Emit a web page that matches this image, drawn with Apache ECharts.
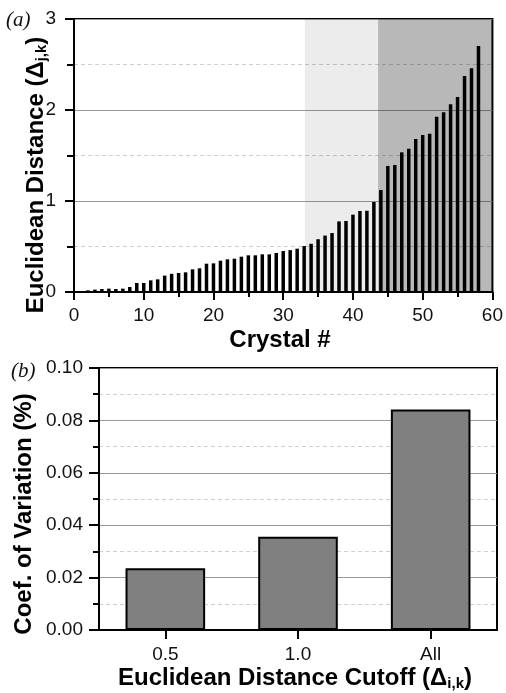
<!DOCTYPE html>
<html>
<head>
<meta charset="utf-8">
<script src="https://cdn.jsdelivr.net/npm/echarts@6/dist/echarts.min.js"></script>
<style>
  html, body { margin: 0; padding: 0; background: #fff; }
  #chart { width: 506px; height: 693px; }
</style>
</head>
<body>
<div id="chart"></div>
<script>
// panel (a): Euclidean distance per crystal, sorted
var crystalIds = [];
for (var i = 1; i <= 58; i++) crystalIds.push(i);
var distances = [
  0.005, 0.018, 0.026, 0.033, 0.037, 0.033, 0.037, 0.055, 0.099, 0.099,
  0.128, 0.139, 0.180, 0.200, 0.209, 0.216, 0.249, 0.260, 0.311, 0.315,
  0.344, 0.359, 0.366, 0.388, 0.403, 0.403, 0.414, 0.414, 0.429, 0.450,
  0.460, 0.476, 0.505, 0.530, 0.580, 0.620, 0.648, 0.776, 0.780, 0.850,
  0.890, 0.893, 0.989, 1.121, 1.385, 1.396, 1.535, 1.575, 1.681, 1.725,
  1.740, 1.927, 1.974, 2.062, 2.143, 2.374, 2.458, 2.703
];
// shaded bands (crystal # ranges)
var lightBand = [33.1, 43.6];
var darkBand = [43.6, 60];

// panel (b): coefficient of variation per cutoff
var cutoffs = ['0.5', '1.0', 'All'];
var coefVariation = [0.0236, 0.0356, 0.0842];

var FONT = '"Liberation Sans", Arial, sans-serif';
var SERIF = '"Liberation Serif", "Times New Roman", serif';
var TICK = '#000';

var chart = echarts.init(document.getElementById('chart'));

// fresh objects for every axis
function labelStyle(margin) {
  return { fontFamily: FONT, fontSize: 19, color: '#111', margin: margin };
}
function tick(len) {
  return { show: true, length: len, lineStyle: { color: TICK, width: 2 } };
}
function minorTick(len) {
  return { show: true, splitNumber: 2, length: len, lineStyle: { color: TICK, width: 2 } };
}
function axisLine() {
  return { show: true, onZero: false, lineStyle: { color: '#000', width: 2 } };
}
function majorGrid() {
  return { show: true, lineStyle: { color: '#9a9a9a', width: 1 } };
}
function minorGrid() {
  return { show: true, lineStyle: { color: '#cfcfcf', width: 1, type: [4, 3] } };
}

var titleRich = {
  sub: { fontFamily: FONT, fontSize: 15, fontWeight: 'bold', fill: '#000', padding: [12, 0, 0, 0] }
};

var option = {
  animation: false,
  grid: [
    { left: 74, top: 19, width: 422, height: 273, show: true, borderColor: '#000', borderWidth: 2, backgroundColor: 'transparent' },
    { left: 99, top: 368, width: 398, height: 262, show: true, borderColor: '#000', borderWidth: 2, backgroundColor: 'transparent' }
  ],
  xAxis: [
    {
      gridIndex: 0, type: 'value', min: 0, max: 60, interval: 10,
      axisLine: axisLine(),
      axisTick: tick(8),
      minorTick: minorTick(5),
      axisLabel: labelStyle(14),
      splitLine: { show: false }
    },
    {
      gridIndex: 1, type: 'category', data: cutoffs,
      axisLine: axisLine(),
      axisTick: { show: true, alignWithLabel: true, length: 9, lineStyle: { color: TICK, width: 2 } },
      axisLabel: labelStyle(15),
      splitLine: { show: false }
    }
  ],
  yAxis: [
    {
      gridIndex: 0, type: 'value', min: 0, max: 3, interval: 1,
      axisLine: axisLine(),
      axisTick: tick(9),
      minorTick: minorTick(7),
      axisLabel: labelStyle(18),
      splitLine: majorGrid(),
      minorSplitLine: minorGrid()
    },
    {
      gridIndex: 1, type: 'value', min: 0, max: 0.1, interval: 0.02,
      axisLine: axisLine(),
      axisTick: tick(10),
      minorTick: minorTick(6),
      axisLabel: {
        fontFamily: FONT, fontSize: 19, color: '#111', margin: 16,
        formatter: function (v) { return v.toFixed(2); }
      },
      splitLine: majorGrid(),
      minorSplitLine: minorGrid()
    }
  ],
  series: [
    {
      type: 'bar', xAxisIndex: 0, yAxisIndex: 0,
      data: crystalIds.map(function (id, k) { return [id, distances[k]]; }),
      barWidth: 3.5,
      itemStyle: { color: '#000' },
      markArea: {
        silent: true,
        data: [
          [{ xAxis: lightBand[0], itemStyle: { color: 'rgba(0,0,0,0.075)' } }, { xAxis: lightBand[1] }],
          [{ xAxis: darkBand[0], itemStyle: { color: 'rgba(0,0,0,0.28)' } }, { xAxis: darkBand[1] }]
        ]
      }
    },
    {
      type: 'bar', xAxisIndex: 1, yAxisIndex: 1,
      data: coefVariation,
      barWidth: '60%',
      itemStyle: { color: '#808080', borderColor: '#000', borderWidth: 2 }
    }
  ],
  graphic: [
    { type: 'text', left: 6, top: 10, style: { text: '(a)', font: 'italic 21px ' + SERIF, fill: '#111' } },
    { type: 'text', left: 11, top: 361, style: { text: '(b)', font: 'italic 21px ' + SERIF, fill: '#111' } },
    {
      type: 'text', x: 280, y: 340,
      style: { text: 'Crystal #', font: 'bold 24px ' + FONT, fill: '#000', align: 'center', verticalAlign: 'middle' }
    },
    {
      type: 'text', x: 36, y: 175, rotation: Math.PI / 2,
      style: {
        text: 'Euclidean Distance (Δ{sub|j,k})', font: 'bold 24px ' + FONT, fill: '#000',
        align: 'center', verticalAlign: 'middle', rich: titleRich
      }
    },
    {
      type: 'text', x: 24, y: 514, rotation: Math.PI / 2,
      style: { text: 'Coef. of Variation (%)', font: 'bold 24px ' + FONT, fill: '#000', align: 'center', verticalAlign: 'middle' }
    },
    {
      type: 'text', x: 295, y: 678,
      style: {
        text: 'Euclidean Distance Cutoff (Δ{sub|i,k})', font: 'bold 24px ' + FONT, fill: '#000',
        align: 'center', verticalAlign: 'middle', rich: titleRich
      }
    }
  ]
};

chart.setOption(option);
</script>
</body>
</html>
